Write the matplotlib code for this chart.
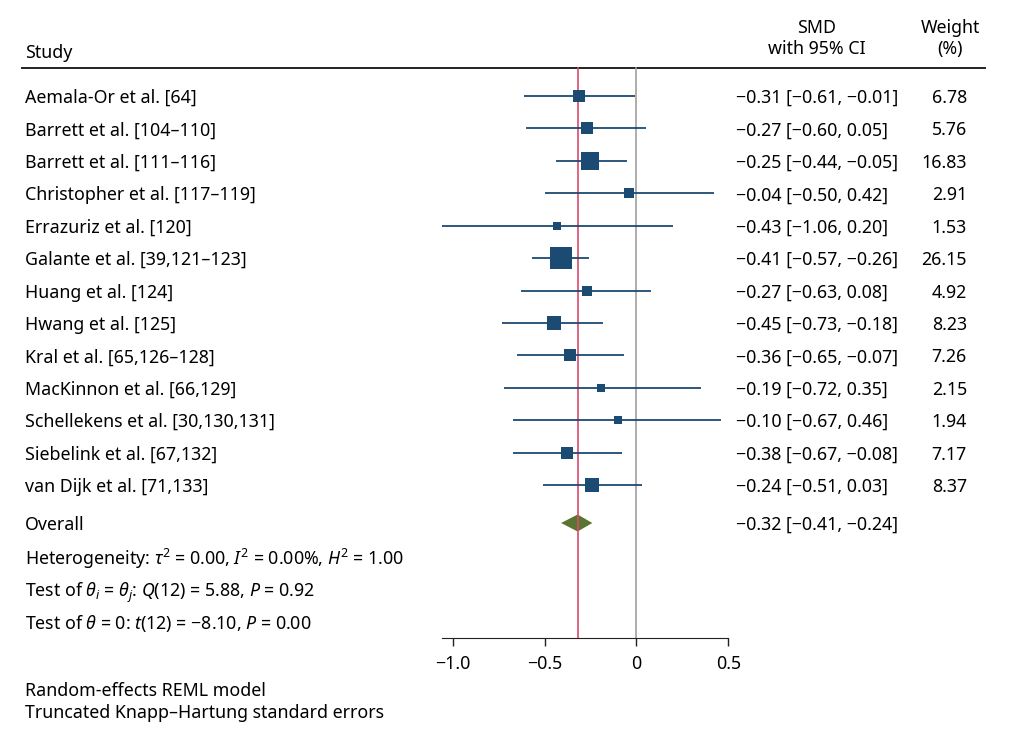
import numpy as np
import matplotlib
matplotlib.use("Agg")
import matplotlib.pyplot as plt

plt.rcParams['font.family'] = ['Noto Sans', 'DejaVu Sans']
plt.rcParams['mathtext.fontset'] = 'custom'
plt.rcParams['mathtext.rm'] = 'Noto Sans'
plt.rcParams['mathtext.it'] = 'Noto Sans:italic'

studies = ["Aemala-Or et al. [64]", "Barrett et al. [104\u2013110]", "Barrett et al. [111\u2013116]",
           "Christopher et al. [117\u2013119]", "Errazuriz et al. [120]", "Galante et al. [39,121\u2013123]",
           "Huang et al. [124]", "Hwang et al. [125]", "Kral et al. [65,126\u2013128]",
           "MacKinnon et al. [66,129]", "Schellekens et al. [30,130,131]", "Siebelink et al. [67,132]",
           "van Dijk et al. [71,133]"]
smd = [-0.31, -0.27, -0.25, -0.04, -0.43, -0.41, -0.27, -0.45, -0.36, -0.19, -0.10, -0.38, -0.24]
lo = [-0.61, -0.60, -0.44, -0.50, -1.06, -0.57, -0.63, -0.73, -0.65, -0.72, -0.67, -0.67, -0.51]
hi = [-0.01, 0.05, -0.05, 0.42, 0.20, -0.26, 0.08, -0.18, -0.07, 0.35, 0.46, -0.08, 0.03]
weight = [6.78, 5.76, 16.83, 2.91, 1.53, 26.15, 4.92, 8.23, 7.26, 2.15, 1.94, 7.17, 8.37]
overall = (-0.32, -0.41, -0.24)
ticks = [-1.0, -0.5, 0, 0.5]
tick_labels = ["\u22121.0", "\u22120.5", "0", "0.5"]

W, H = 1009, 737
fig = plt.figure(figsize=(W / 100, H / 100), dpi=100)
ax = fig.add_axes([0, 0, 1, 1])

# pixel mapping: 0 -> 636.4 px, 183.7 px per unit; row 0 at 96 px, 32.42 px per row
ppu, x0px = 183.7, 636.4
y0px, ppr = 96.0, 32.42
ax.set_xlim(-x0px / ppu, (W - x0px) / ppu)
ax.set_ylim((H - y0px) / ppr, -y0px / ppr)

def row(px):
    return (px - y0px) / ppr

def fmt(v):
    return ("%.2f" % v).replace('-', '\u2212')

fs = 12.8
blue = '#1b4a72'
tr = ax.get_yaxis_transform()
n = len(studies)
va = 'center_baseline'

top, axis_y = row(68), row(638)
ax.plot([22 / W, 985 / W], [top, top], color='#222222', lw=1.4, transform=tr, clip_on=False)
ax.plot([0, 0], [top, axis_y], color='#a0a0a0', lw=1.2)
ax.plot([overall[0]] * 2, [top, axis_y], color='#d94a6c', lw=1.2)

for i in range(n):
    ax.plot([lo[i], hi[i]], [i, i], color=blue, lw=1.3, solid_capstyle='butt')
    side = 3.6 * np.sqrt(weight[i]) + 3
    ax.plot(smd[i], i, marker='s', ms=side * 0.72, color=blue, mew=0)
    ax.text(25 / W, i, studies[i], transform=tr, fontsize=fs, va=va)
    ax.text(736 / W, i, "%s [%s, %s]" % (fmt(smd[i]), fmt(lo[i]), fmt(hi[i])),
            transform=tr, fontsize=fs, va=va)
    ax.text(967 / W, i, "%.2f" % weight[i], transform=tr, fontsize=fs, va=va, ha='right')

oy = row(523)
dh = 8.5 / ppr
ax.fill([overall[1], overall[0], overall[2], overall[0]], [oy, oy - dh, oy, oy + dh], color='#5a7431', lw=0)
ax.text(25 / W, oy, "Overall", transform=tr, fontsize=fs, va=va)
ax.text(736 / W, oy, "%s [%s, %s]" % tuple(fmt(v) for v in overall), transform=tr, fontsize=fs, va=va)

ax.text(25 / W, row(556), r"Heterogeneity: $\tau^2$ = 0.00, $I^2$ = 0.00%, $H^2$ = 1.00",
        transform=tr, fontsize=fs, va=va)
ax.text(25 / W, row(589), r"Test of $\theta_i$ = $\theta_j$: $Q$(12) = 5.88, $P$ = 0.92",
        transform=tr, fontsize=fs, va=va)
ax.text(25 / W, row(621), r"Test of $\theta$ = 0: $t$(12) = $-$8.10, $P$ = 0.00",
        transform=tr, fontsize=fs, va=va)
ax.text(25 / W, row(689), "Random-effects REML model", transform=tr, fontsize=fs, va=va)
ax.text(25 / W, row(711), "Truncated Knapp\u2013Hartung standard errors", transform=tr, fontsize=fs, va=va)

ax.text(25 / W, row(51), "Study", transform=tr, fontsize=fs, va=va)
ax.text(817 / W, row(26), "SMD", transform=tr, fontsize=fs, va=va, ha='center')
ax.text(817 / W, row(47), "with 95% CI", transform=tr, fontsize=fs, va=va, ha='center')
ax.text(950 / W, row(26), "Weight", transform=tr, fontsize=fs, va=va, ha='center')
ax.text(950 / W, row(47), "(%)", transform=tr, fontsize=fs, va=va, ha='center')

for s in ['top', 'right', 'left']:
    ax.spines[s].set_visible(False)
ax.spines['bottom'].set_position(('data', axis_y))
ax.spines['bottom'].set_bounds(lo[4], 0.5)
ax.spines['bottom'].set_color('#222222')
ax.set_yticks([])
ax.set_xticks(ticks)
ax.set_xticklabels(tick_labels, fontsize=fs)
ax.tick_params(axis='x', length=6, width=1, color='#222222', pad=6)
ax.patch.set_visible(False)

fig.savefig("out.png", dpi=100)
